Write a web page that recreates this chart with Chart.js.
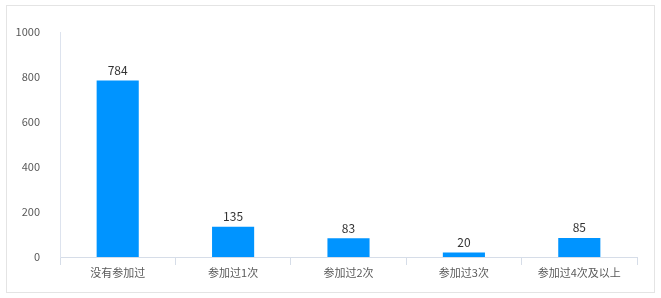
<!DOCTYPE html>
<html>
<head>
<meta charset="utf-8">
<script src="https://cdn.jsdelivr.net/npm/chart.js@4"></script>
<style>
  html, body { margin: 0; padding: 0; background: #fff; }
  #wrap { position: relative; width: 661px; height: 298px; }
  #frame { position: absolute; left: 6px; top: 5px; width: 649px; height: 288px; border: 1px solid #e4e4e4; box-sizing: border-box; }
  #chart { position: absolute; left: 0; top: 0; }
</style>
</head>
<body>
<div id="wrap">
  <div id="frame"></div>
  <canvas id="chart" width="661" height="298"></canvas>
</div>
<script>
const categories = ["没有参加过", "参加过1次", "参加过2次", "参加过3次", "参加过4次及以上"];
const counts = [784, 135, 83, 20, 85];
const yTicks = [0, 200, 400, 600, 800, 1000];

const fontFamily = "'Microsoft YaHei', 'Noto Sans CJK SC', sans-serif";

// value above each bar
const barValues = {
  id: "barValues",
  afterDatasetsDraw(chart) {
    const c = chart.ctx;
    const meta = chart.getDatasetMeta(0);
    c.save();
    c.font = "12px " + fontFamily;
    c.fillStyle = "#333";
    c.textAlign = "center";
    c.textBaseline = "bottom";
    meta.data.forEach((bar, i) => {
      c.fillText(String(counts[i]), bar.x, bar.y - 4);
    });
    c.restore();
  }
};

const ctx = document.getElementById("chart").getContext("2d");
new Chart(ctx, {
  type: "bar",
  data: {
    labels: categories,
    datasets: [{
      data: counts,
      backgroundColor: "#0094ff",
      categoryPercentage: 1,
      barPercentage: 0.365
    }]
  },
  options: {
    responsive: false,
    animation: false,
    layout: { padding: { top: 32, right: 24, left: 0, bottom: 0 } },
    plugins: { legend: { display: false }, tooltip: { enabled: false } },
    scales: {
      x: {
        afterFit(scale) { scale.height = 41; },
        grid: { display: true, drawOnChartArea: false, offset: true, tickLength: 8, color: "#d6dde8" },
        border: { display: true, color: "#d6dde8" },
        ticks: { color: "#595959", font: { size: 11, family: fontFamily }, padding: 1 }
      },
      y: {
        min: 0,
        max: 1000,
        afterFit(scale) { scale.width = 60; },
        afterBuildTicks(scale) { scale.ticks = yTicks.map(v => ({ value: v })); },
        grid: { display: false },
        border: { display: true, color: "#dde3ee" },
        ticks: {
          color: "#595959",
          font: { size: 11, family: fontFamily },
          padding: 12,
          callback: v => String(v)
        }
      }
    }
  },
  plugins: [barValues]
});
</script>
</body>
</html>
